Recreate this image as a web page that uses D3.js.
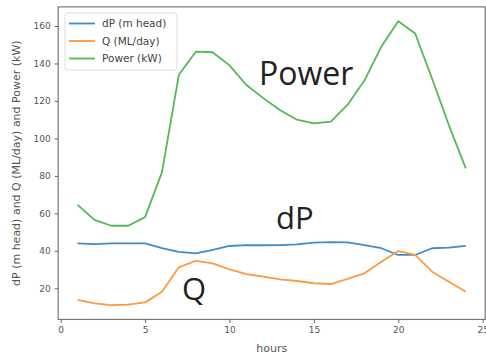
<!DOCTYPE html>
<html>
<head>
<meta charset="utf-8">
<script src="https://cdn.jsdelivr.net/npm/d3@7"></script>
<style>
  body { margin: 0; background: #fff; }
  svg { display: block; }
  .tick text { font-family: "DejaVu Sans", sans-serif; font-size: 9px; fill: #555; }
  .tick line { stroke: #666; }
</style>
</head>
<body>
<svg id="chart" width="486" height="356"></svg>
<script>
// data
var hours = [1, 2, 3, 4, 5, 6, 7, 8, 9, 10, 11, 12, 13, 14, 15, 16, 17, 18, 19, 20, 21, 22, 23, 24];
var dP = [44, 43.6, 44, 44, 44, 41.4, 39.5, 38.7, 40.5, 42.6, 43.1, 43, 43.1, 43.5, 44.4, 44.7, 44.5, 43.1, 41.4, 37.8, 37.8, 41.4, 41.7, 42.6];
var flowQ = [13.8, 12, 11, 11.3, 12.5, 18.2, 31.2, 34.7, 33.3, 30.1, 27.6, 26.2, 24.8, 23.9, 22.7, 22.3, 25, 28, 34.2, 39.9, 37.8, 28.9, 23.5, 18.2];
var power = [64.5, 56.5, 53.4, 53.4, 58, 82, 134, 146.3, 146, 139, 128.5, 121.5, 115, 110, 108, 109, 118, 131, 149, 162.5, 156, 132, 107, 84];
var seriesNames = ['dP (m head)', 'Q (ML/day)', 'Power (kW)'];
var xTicks = [0, 5, 10, 15, 20, 25];
var yTicks = [20, 40, 60, 80, 100, 120, 140, 160];

var svg = d3.select('#chart'),
    colors = ['#3d8ccc', '#ff9840', '#55b855'];

// axes limits like matplotlib's 5% padding
var x = d3.scaleLinear().domain([-0.15, 25.15]).range([58.2, 485.2]),
    y = d3.scaleLinear().domain([0, 160]).range([325.8, 26]),
    yMin = 3.4, yMax = 170.2;

var plotLeft = x(-0.15), plotRight = x(25.15), plotTop = y(yMax), plotBottom = y(yMin);

// frame
svg.append('rect')
    .attr('x', plotLeft).attr('y', plotTop)
    .attr('width', plotRight - plotLeft).attr('height', plotBottom - plotTop)
    .attr('fill', 'none').attr('stroke', '#777').attr('stroke-width', 1.2);

svg.append('g')
    .attr('transform', 'translate(0,' + plotBottom + ')')
    .call(d3.axisBottom(x).tickValues(xTicks).tickSize(3.5).tickPadding(4))
    .call(function(g) { g.select('.domain').remove(); });

svg.append('g')
    .attr('transform', 'translate(' + plotLeft + ',0)')
    .call(d3.axisLeft(y).tickValues(yTicks).tickSize(3.5).tickPadding(4))
    .call(function(g) { g.select('.domain').remove(); });

// lines
var series = [dP, flowQ, power];
var line = d3.line()
    .x(function(d, i) { return x(hours[i]); })
    .y(function(d) { return y(d); });

svg.append('g').selectAll('path').data(series).enter()
  .append('path')
    .attr('d', line)
    .attr('fill', 'none')
    .attr('stroke', function(d, i) { return colors[i]; })
    .attr('stroke-width', 1.8)
    .attr('stroke-linejoin', 'round');

// legend
var legend = svg.append('g').attr('transform', 'translate(65,13)');
legend.append('rect')
    .attr('width', 112).attr('height', 57).attr('rx', 3)
    .attr('fill', '#fff').attr('stroke', '#ddd');
var items = legend.selectAll('.item').data(seriesNames).enter()
  .append('g')
    .attr('transform', function(d, i) { return 'translate(0,' + (10.5 + i * 17.5) + ')'; });
items.append('line')
    .attr('x1', 4).attr('x2', 30)
    .attr('stroke', function(d, i) { return colors[i]; })
    .attr('stroke-width', 1.8);
items.append('text')
    .attr('x', 37).attr('dy', '0.35em')
    .style('font-family', '"DejaVu Sans", sans-serif')
    .style('font-size', '10.5px')
    .attr('fill', '#444')
    .text(function(d) { return d; });

// axis labels
svg.append('text')
    .attr('x', (plotLeft + plotRight) / 2).attr('y', 352)
    .attr('text-anchor', 'middle')
    .style('font-family', '"DejaVu Sans", sans-serif')
    .style('font-size', '11px')
    .attr('fill', '#555')
    .text('hours');

svg.append('text')
    .attr('transform', 'translate(20,' + ((plotTop + plotBottom) / 2) + ') rotate(-90)')
    .attr('text-anchor', 'middle')
    .style('font-family', '"DejaVu Sans", sans-serif')
    .style('font-size', '11px')
    .attr('fill', '#555')
    .text('dP (m head) and Q (ML/day) and Power (kW)');

// big annotations
var notes = [
    {t: 'Power', x: 259, y: 85, s: 32},
    {t: 'dP', x: 276, y: 229, s: 31},
    {t: 'Q', x: 182, y: 300, s: 31}
];
svg.selectAll('.note').data(notes).enter()
  .append('text')
    .attr('x', function(d) { return d.x; })
    .attr('y', function(d) { return d.y; })
    .style('font-family', '"Open Sans", sans-serif')
    .style('font-size', function(d) { return d.s + 'px'; })
    .attr('fill', '#222')
    .text(function(d) { return d.t; });
</script>
</body>
</html>
